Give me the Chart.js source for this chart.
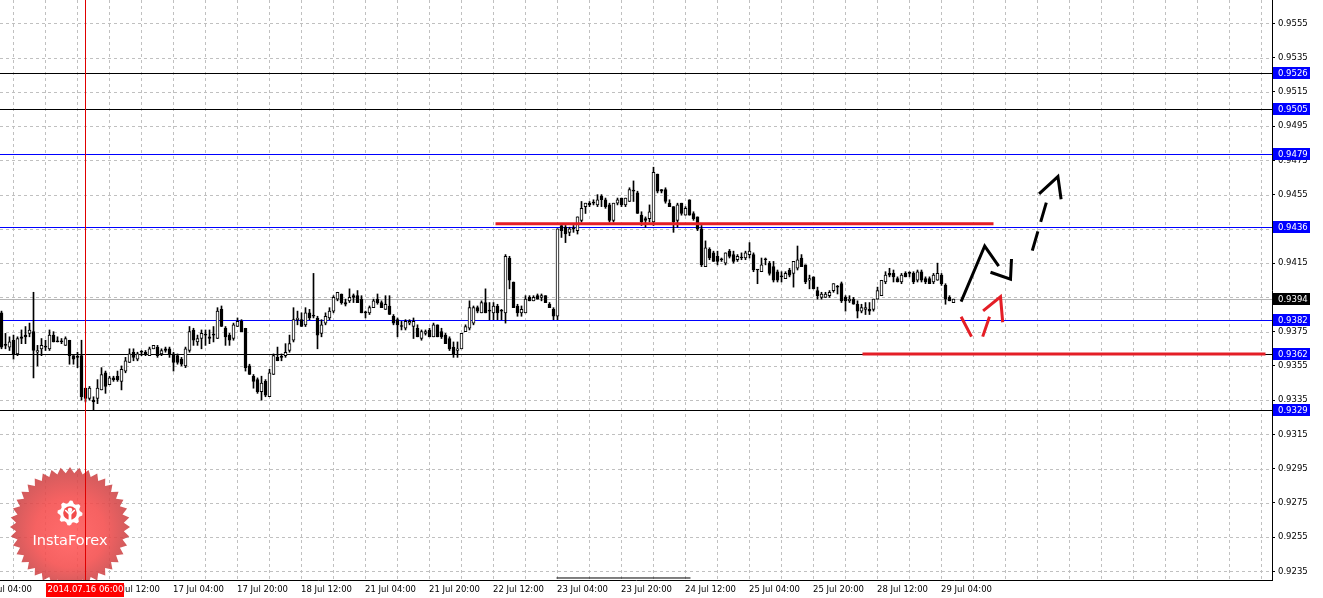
<!DOCTYPE html>
<html>
<head>
<meta charset="utf-8">
<script src="https://cdn.jsdelivr.net/npm/chart.js@4"></script>
<style>
html, body { margin: 0; padding: 0; background: #fff; }
#wrap { width: 1323px; height: 598px; position: relative; }
</style>
</head>
<body>
<div id="wrap"><canvas id="priceChart"></canvas></div>
<script>
// USDCHF H1, one candle per hour, bar 0 = 15 Jul 09:00, last bar = 29 Jul 07:00
const timeLabels = ['15 Jul 04:00', '15 Jul 20:00', '16 Jul 12:00', '17 Jul 04:00', '17 Jul 20:00', '18 Jul 12:00',
    '21 Jul 04:00', '21 Jul 20:00', '22 Jul 12:00', '23 Jul 04:00', '23 Jul 20:00', '24 Jul 12:00',
    '25 Jul 04:00', '25 Jul 20:00', '28 Jul 12:00', '29 Jul 04:00'];
const timeTickBars = [-5, 11, 27, 43, 59, 75, 91, 107, 123, 139, 155, 171, 187, 203, 219, 235];

const open = [
0.9386,0.9367,0.9366,0.9370,0.9362,0.9372,0.9373,0.9374,0.9375,0.9363,
0.9365,0.9366,0.9365,0.9373,0.9369,0.9369,0.9367,0.9370,0.9361,0.9360,
0.9361,0.9342,0.9336,0.9335,0.9336,0.9341,0.9351,0.9344,0.9348,0.9349,
0.9346,0.9352,0.9357,0.9363,0.9359,0.9363,0.9363,0.9361,0.9365,0.9366,
0.9362,0.9365,0.9365,0.9362,0.9361,0.9359,0.9355,0.9364,0.9376,0.9369,
0.9371,0.9373,0.9372,0.9373,0.9371,0.9388,0.9377,0.9373,0.9371,0.9378,
0.9381,0.9377,0.9355,0.9349,0.9347,0.9340,0.9346,0.9337,0.9350,0.9360,
0.9360,0.9361,0.9364,0.9370,0.9382,0.9382,0.9379,0.9386,0.9384,0.9383,
0.9374,0.9380,0.9383,0.9387,0.9394,0.9397,0.9392,0.9393,0.9396,0.9396,
0.9394,0.9386,0.9386,0.9389,0.9394,0.9392,0.9388,0.9390,0.9384,0.9382,
0.9378,0.9377,0.9380,0.9378,0.9377,0.9371,0.9374,0.9376,0.9372,0.9379,
0.9375,0.9373,0.9371,0.9366,0.9364,0.9365,0.9375,0.9377,0.9380,0.9389,
0.9386,0.9392,0.9387,0.9386,0.9390,0.9387,0.9386,0.9418,0.9404,0.9390,
0.9386,0.9386,0.9395,0.9393,0.9396,0.9395,0.9396,0.9391,0.9388,0.9384,
0.9437,0.9436,0.9433,0.9435,0.9434,0.9440,0.9448,0.9450,0.9450,0.9449,
0.9454,0.9452,0.9449,0.9440,0.9450,0.9453,0.9449,0.9451,0.9457,0.9456,
0.9443,0.9441,0.9441,0.9439,0.9467,0.9458,0.9458,0.9450,0.9448,0.9440,
0.9450,0.9443,0.9452,0.9444,0.9442,0.9435,0.9413,0.9423,0.9421,0.9419,
0.9417,0.9415,0.9422,0.9420,0.9417,0.9418,0.9418,0.9420,0.9420,0.9411,
0.9410,0.9417,0.9415,0.9413,0.9410,0.9407,0.9406,0.9411,0.9409,0.9412,
0.9418,0.9414,0.9405,0.9407,0.9399,0.9395,0.9395,0.9396,0.9399,0.9401,
0.9403,0.9395,0.9393,0.9394,0.9391,0.9387,0.9388,0.9388,0.9388,0.9394,
0.9396,0.9404,0.9409,0.9409,0.9406,0.9404,0.9409,0.9409,0.9409,0.9405,
0.9410,0.9406,0.9406,0.9404,0.9405,0.9408,0.9402,0.9395,0.9392];
const high = [
0.9387,0.9374,0.9372,0.9373,0.9372,0.9376,0.9378,0.9380,0.9398,0.9367,
0.9371,0.9370,0.9376,0.9375,0.9372,0.9371,0.9372,0.9370,0.9361,0.9363,
0.9370,0.9342,0.9343,0.9337,0.9347,0.9354,0.9352,0.9349,0.9349,0.9352,
0.9355,0.9360,0.9365,0.9365,0.9363,0.9364,0.9364,0.9366,0.9367,0.9367,
0.9365,0.9366,0.9366,0.9363,0.9362,0.9360,0.9366,0.9378,0.9377,0.9373,
0.9376,0.9376,0.9376,0.9378,0.9389,0.9390,0.9378,0.9374,0.9380,0.9383,
0.9382,0.9377,0.9356,0.9350,0.9348,0.9349,0.9347,0.9353,0.9362,0.9366,
0.9362,0.9368,0.9373,0.9389,0.9387,0.9386,0.9389,0.9388,0.9409,0.9384,
0.9382,0.9386,0.9389,0.9396,0.9398,0.9397,0.9394,0.9400,0.9397,0.9399,
0.9396,0.9387,0.9390,0.9394,0.9397,0.9393,0.9396,0.9396,0.9385,0.9383,
0.9381,0.9382,0.9382,0.9383,0.9379,0.9376,0.9376,0.9377,0.9380,0.9379,
0.9377,0.9374,0.9372,0.9369,0.9369,0.9374,0.9379,0.9393,0.9390,0.9390,
0.9393,0.9400,0.9392,0.9392,0.9391,0.9388,0.9420,0.9419,0.9404,0.9391,
0.9390,0.9396,0.9396,0.9396,0.9397,0.9397,0.9396,0.9392,0.9389,0.9435,
0.9437,0.9437,0.9436,0.9437,0.9442,0.9451,0.9450,0.9451,0.9452,0.9455,
0.9455,0.9453,0.9450,0.9450,0.9453,0.9453,0.9453,0.9459,0.9463,0.9457,
0.9445,0.9442,0.9449,0.9471,0.9467,0.9458,0.9459,0.9452,0.9448,0.9450,
0.9450,0.9448,0.9452,0.9445,0.9442,0.9437,0.9428,0.9424,0.9422,0.9422,
0.9418,0.9421,0.9423,0.9422,0.9420,0.9421,0.9422,0.9427,0.9421,0.9411,
0.9418,0.9418,0.9416,0.9416,0.9411,0.9410,0.9410,0.9412,0.9416,0.9425,
0.9420,0.9414,0.9408,0.9407,0.9401,0.9398,0.9398,0.9399,0.9403,0.9402,
0.9404,0.9396,0.9396,0.9395,0.9393,0.9391,0.9392,0.9392,0.9394,0.9401,
0.9405,0.9410,0.9412,0.9411,0.9407,0.9409,0.9410,0.9410,0.9410,0.9411,
0.9411,0.9407,0.9407,0.9409,0.9415,0.9409,0.9403,0.9396,0.9394];
const low = [
0.9365,0.9365,0.9364,0.9359,0.9361,0.9368,0.9368,0.9372,0.9348,0.9355,
0.9361,0.9364,0.9364,0.9369,0.9369,0.9368,0.9367,0.9356,0.9356,0.9354,
0.9335,0.9334,0.9335,0.9329,0.9333,0.9341,0.9339,0.9344,0.9346,0.9346,
0.9341,0.9351,0.9357,0.9358,0.9358,0.9361,0.9361,0.9361,0.9365,0.9360,
0.9361,0.9363,0.9360,0.9352,0.9356,0.9355,0.9354,0.9363,0.9367,0.9367,
0.9365,0.9367,0.9368,0.9369,0.9371,0.9378,0.9367,0.9367,0.9370,0.9378,
0.9375,0.9352,0.9350,0.9342,0.9339,0.9335,0.9337,0.9337,0.9350,0.9358,
0.9358,0.9360,0.9363,0.9369,0.9379,0.9378,0.9378,0.9382,0.9383,0.9365,
0.9372,0.9379,0.9382,0.9386,0.9393,0.9391,0.9390,0.9392,0.9392,0.9392,
0.9386,0.9383,0.9385,0.9389,0.9391,0.9389,0.9388,0.9385,0.9379,0.9372,
0.9376,0.9376,0.9379,0.9371,0.9372,0.9370,0.9373,0.9372,0.9372,0.9372,
0.9371,0.9368,0.9364,0.9360,0.9360,0.9365,0.9375,0.9376,0.9379,0.9386,
0.9386,0.9386,0.9382,0.9382,0.9382,0.9382,0.9380,0.9400,0.9389,0.9384,
0.9384,0.9386,0.9393,0.9393,0.9394,0.9393,0.9392,0.9389,0.9382,0.9382,
0.9430,0.9427,0.9431,0.9433,0.9432,0.9439,0.9444,0.9448,0.9449,0.9448,
0.9448,0.9447,0.9439,0.9439,0.9449,0.9448,0.9448,0.9451,0.9451,0.9444,
0.9437,0.9436,0.9439,0.9437,0.9456,0.9456,0.9450,0.9448,0.9433,0.9436,
0.9443,0.9443,0.9443,0.9440,0.9434,0.9413,0.9413,0.9417,0.9416,0.9414,
0.9416,0.9414,0.9418,0.9415,0.9416,0.9417,0.9417,0.9418,0.9410,0.9403,
0.9410,0.9414,0.9408,0.9404,0.9404,0.9404,0.9406,0.9407,0.9401,0.9411,
0.9413,0.9403,0.9400,0.9400,0.9394,0.9394,0.9395,0.9395,0.9398,0.9397,
0.9392,0.9387,0.9392,0.9391,0.9383,0.9386,0.9385,0.9385,0.9387,0.9394,
0.9396,0.9403,0.9407,0.9404,0.9404,0.9403,0.9407,0.9407,0.9403,0.9404,
0.9404,0.9403,0.9403,0.9403,0.9405,0.9402,0.9391,0.9393,0.9392];
const close = [
0.9366,0.9367,0.9369,0.9362,0.9371,0.9371,0.9372,0.9376,0.9364,0.9364,
0.9367,0.9366,0.9373,0.9369,0.9369,0.9369,0.9371,0.9361,0.9359,0.9360,
0.9337,0.9336,0.9342,0.9334,0.9342,0.9350,0.9343,0.9348,0.9347,0.9347,
0.9353,0.9358,0.9362,0.9360,0.9362,0.9363,0.9362,0.9365,0.9367,0.9361,
0.9364,0.9364,0.9362,0.9357,0.9357,0.9356,0.9365,0.9375,0.9370,0.9371,
0.9374,0.9373,0.9371,0.9373,0.9387,0.9378,0.9372,0.9370,0.9379,0.9381,
0.9375,0.9354,0.9350,0.9346,0.9340,0.9345,0.9338,0.9351,0.9361,0.9358,
0.9360,0.9363,0.9368,0.9382,0.9383,0.9378,0.9386,0.9383,0.9384,0.9373,
0.9379,0.9384,0.9387,0.9395,0.9398,0.9392,0.9391,0.9395,0.9395,0.9392,
0.9386,0.9386,0.9389,0.9393,0.9392,0.9389,0.9391,0.9385,0.9380,0.9379,
0.9378,0.9381,0.9381,0.9381,0.9372,0.9375,0.9375,0.9372,0.9379,0.9372,
0.9372,0.9368,0.9365,0.9362,0.9365,0.9374,0.9378,0.9389,0.9389,0.9387,
0.9392,0.9386,0.9387,0.9390,0.9386,0.9387,0.9419,0.9405,0.9389,0.9386,
0.9388,0.9394,0.9393,0.9395,0.9394,0.9396,0.9392,0.9389,0.9384,0.9435,
0.9434,0.9432,0.9435,0.9435,0.9442,0.9447,0.9450,0.9449,0.9450,0.9452,
0.9452,0.9448,0.9440,0.9450,0.9452,0.9449,0.9453,0.9458,0.9457,0.9444,
0.9439,0.9440,0.9445,0.9468,0.9457,0.9457,0.9451,0.9448,0.9439,0.9449,
0.9444,0.9447,0.9443,0.9441,0.9435,0.9414,0.9424,0.9418,0.9416,0.9416,
0.9417,0.9421,0.9419,0.9416,0.9419,0.9418,0.9421,0.9422,0.9411,0.9411,
0.9414,0.9417,0.9409,0.9405,0.9405,0.9407,0.9409,0.9408,0.9416,0.9417,
0.9413,0.9404,0.9406,0.9400,0.9396,0.9397,0.9397,0.9398,0.9403,0.9401,
0.9393,0.9393,0.9394,0.9391,0.9387,0.9389,0.9389,0.9387,0.9394,0.9399,
0.9405,0.9408,0.9408,0.9407,0.9404,0.9408,0.9407,0.9409,0.9404,0.9410,
0.9405,0.9404,0.9403,0.9408,0.9409,0.9403,0.9394,0.9393,0.9394];

const priceTicks = [0.9235, 0.9255, 0.9275, 0.9295, 0.9315, 0.9335, 0.9355, 0.9375, 0.9395,
    0.9415, 0.9435, 0.9455, 0.9475, 0.9495, 0.9515, 0.9535, 0.9555];

// horizontal levels with their price labels on the right
const levelPrices = [0.9526, 0.9505, 0.9479, 0.9436, 0.9382, 0.9362, 0.9329];
const levelLineColors = ['#000000', '#000000', '#0000ff', '#0000ff', '#0000ff', '#000000', '#000000'];
const bidPrice = 0.9394;
const crossBar = 21;
const crossText = '2014.07.16 06:00';

// analyst drawings as [bar, price] pairs, null breaks the stroke
const redLines = [[123.5, 0.9438], [248, 0.9438], null, [215.25, 0.9362], [316, 0.9362]];
const blackPath = [[239.9, 0.93925], [245.8, 0.9425], [249.3, 0.94133], null,
    [247.25, 0.94097], [252.25, 0.94056], [252.5, 0.94174]];
const blackDashed = [[257.7, 0.94223], [261.4, 0.94519]];
const blackHead = [[259.4, 0.94554], [264.1, 0.94655], [264.9, 0.94523]];
const redPath = [[239.9, 0.93837], [242.5, 0.93721], null, [245.3, 0.93721], [247, 0.93837], null,
    [245.4, 0.93871], [249.75, 0.93954], [250.3, 0.93805]];
const bottomMark = [[138.75, 0.92312], [172.25, 0.92312]];

const FONT = '"DejaVu Sans", sans-serif';

function pts(list)
{
    return list.map((p, i) => p ? {x: p[0], y: p[1]} : {x: list[i - 1][0], y: null});
}

function lineSet(list, color, dash, width)
{
    return {
        type: 'line',
        data: pts(list),
        borderColor: color,
        borderWidth: width || 3,
        borderDash: dash || [],
        borderCapStyle: 'butt',
        pointRadius: 0,
        tension: 0,
        spanGaps: false,
        order: 0
    };
}

function drawLogo(ctx, cx, cy)
{
    ctx.save();
    ctx.globalAlpha = 0.88;
    const n = 40;
    ctx.beginPath();
    for (let k = 0; k < n * 2; k++) {
        const a = -Math.PI / 2 + k * Math.PI / n;
        const r = k % 2 ? 54 : 60;
        ctx.lineTo(cx + r * Math.cos(a), cy + r * Math.sin(a));
    }
    ctx.closePath();
    const g = ctx.createRadialGradient(cx, cy + 12, 4, cx, cy, 60);
    g.addColorStop(0, '#ff5656');
    g.addColorStop(0.55, '#f44c4c');
    g.addColorStop(1, '#c94446');
    ctx.fillStyle = g;
    ctx.fill();

    // gear icon
    const gy = cy - 14;
    ctx.globalAlpha = 1;
    ctx.beginPath();
    for (let k = 0; k < 32; k++) {
        const a = k * Math.PI * 2 / 32;
        const r = (k % 4 < 2) ? 12.5 : 10;
        ctx.lineTo(cx + r * Math.cos(a), gy + r * Math.sin(a));
    }
    ctx.closePath();
    ctx.fillStyle = '#ffffff';
    ctx.fill();
    ctx.beginPath();
    ctx.arc(cx, gy, 6.8, 0, Math.PI * 2);
    ctx.fillStyle = '#f24b4b';
    ctx.fill();
    ctx.fillStyle = '#ffffff';
    ctx.beginPath();
    ctx.arc(cx, gy - 3, 2.3, 0, Math.PI * 2);
    ctx.fill();
    ctx.fillRect(cx - 1.4, gy - 1, 2.8, 12.5);
    ctx.strokeStyle = '#ffffff';
    ctx.lineWidth = 1.7;
    ctx.beginPath();
    ctx.moveTo(cx - 4.8, gy - 3);
    ctx.lineTo(cx, gy + 1.5);
    ctx.lineTo(cx + 4.8, gy - 3);
    ctx.stroke();

    ctx.font = '14.5px ' + FONT;
    ctx.textAlign = 'center';
    ctx.textBaseline = 'middle';
    ctx.fillText('InstaForex', cx, cy + 14);
    ctx.restore();
}

const mt4Plugin = {
    id: 'mt4',
    beforeDatasetsDraw(chart)
    {
        const {ctx, chartArea: area, scales: {x, y}} = chart;
        ctx.save();
        ctx.beginPath();
        ctx.rect(area.left, area.top, area.right - area.left, area.bottom - area.top);
        ctx.clip();

        // dotted grid
        ctx.strokeStyle = '#c0c0c0';
        ctx.lineWidth = 1;
        ctx.setLineDash([3, 3]);
        for (const v of priceTicks) {
            const py = Math.round(y.getPixelForValue(v)) + 0.5;
            ctx.beginPath();
            ctx.moveTo(area.left, py);
            ctx.lineTo(area.right, py);
            ctx.stroke();
        }
        for (let b = 3; b < x.max; b += 8) {
            const px = Math.floor(x.getPixelForValue(b)) + 0.5;
            ctx.beginPath();
            ctx.moveTo(px, area.top);
            ctx.lineTo(px, area.bottom);
            ctx.stroke();
        }
        ctx.setLineDash([]);

        drawLogo(ctx, 70, 527);

        // bid line
        ctx.strokeStyle = '#b4b4b4';
        let py = Math.round(y.getPixelForValue(bidPrice)) + 0.5;
        ctx.beginPath();
        ctx.moveTo(area.left, py);
        ctx.lineTo(area.right, py);
        ctx.stroke();

        levelPrices.forEach((v, i) => {
            const ly = Math.round(y.getPixelForValue(v)) + 0.5;
            ctx.strokeStyle = levelLineColors[i];
            ctx.beginPath();
            ctx.moveTo(area.left, ly);
            ctx.lineTo(area.right, ly);
            ctx.stroke();
        });
        ctx.restore();
    },
    afterDatasetsDraw(chart)
    {
        const {ctx, chartArea: area, scales: {x}} = chart;
        const px = Math.floor(x.getPixelForValue(crossBar)) + 0.5;
        ctx.save();
        ctx.strokeStyle = '#e00000';
        ctx.lineWidth = 1;
        ctx.beginPath();
        ctx.moveTo(px, area.top);
        ctx.lineTo(px, area.bottom);
        ctx.stroke();
        ctx.restore();
    },
    afterDraw(chart)
    {
        const {ctx, chartArea: area, scales: {x, y}} = chart;
        ctx.save();
        ctx.font = '8.5px ' + FONT;
        ctx.textBaseline = 'middle';
        ctx.textAlign = 'left';

        // price boxes
        const box = (v, bg) => {
            const py = Math.round(y.getPixelForValue(v));
            ctx.fillStyle = bg;
            ctx.fillRect(area.right + 1, py - 6, 37, 12);
            ctx.fillStyle = '#ffffff';
            ctx.fillText(v.toFixed(4), area.right + 6, py + 0.5);
        };
        levelPrices.forEach(v => box(v, '#0000ff'));
        box(bidPrice, '#000000');

        // time axis
        ctx.fillStyle = '#000000';
        const ty = area.bottom + 10;
        timeLabels.forEach((t, i) => {
            const px = Math.floor(x.getPixelForValue(timeTickBars[i]));
            ctx.fillText(t, px, ty);
        });
        const cx = Math.floor(x.getPixelForValue(crossBar));
        ctx.fillStyle = '#ff0000';
        ctx.fillRect(cx - 39, area.bottom + 3, 78, 14);
        ctx.fillStyle = '#ffffff';
        ctx.textAlign = 'center';
        ctx.fillText(crossText, cx + 0.5, ty);
        ctx.restore();
    }
};

const ctx = document.getElementById('priceChart').getContext('2d');
new Chart(ctx, {
    type: 'bar',
    data: {
        datasets: [
            lineSet(redLines, '#e41e26'),
            lineSet(redPath, '#e41e26'),
            lineSet(blackPath, '#000000'),
            lineSet(blackDashed, '#000000', [20, 10]),
            lineSet(blackHead, '#000000'),
            lineSet(bottomMark, '#000000', [], 1),
            {
                label: 'body',
                data: open.map((o, i) => ({x: i, y: [o, close[i]]})),
                backgroundColor: open.map((o, i) => close[i] > o ? '#ffffff' : '#000000'),
                borderColor: '#000000',
                borderWidth: 1,
                borderSkipped: false,
                barThickness: 3,
                minBarLength: 1,
                grouped: false,
                order: 1
            },
            {
                label: 'wick',
                data: open.map((o, i) => ({x: i, y: [low[i], high[i]]})),
                backgroundColor: '#000000',
                borderWidth: 0,
                barThickness: 1,
                grouped: false,
                order: 2
            }
        ]
    },
    options: {
        responsive: true,
        maintainAspectRatio: false,
        animation: false,
        layout: { padding: 0 },
        plugins: {
            legend: { display: false },
            tooltip: { enabled: false }
        },
        scales: {
            x: {
                type: 'linear',
                offset: false,
                bounds: 'data',
                min: -0.375,
                max: 317.625,
                grid: { display: false, offset: false },
                ticks: { display: false },
                border: { display: true, color: '#000000', width: 1 },
                afterFit: s => { s.height = 18; s.paddingLeft = 0; s.paddingRight = 0; }
            },
            y: {
                type: 'linear',
                position: 'right',
                bounds: 'data',
                min: 0.923003,
                max: 0.956862,
                afterBuildTicks: s => { s.ticks = priceTicks.map(v => ({value: v})); },
                ticks: {
                    autoSkip: false,
                    color: '#000000',
                    padding: 3,
                    font: { family: 'DejaVu Sans', size: 8.5 },
                    callback: v => v.toFixed(4)
                },
                grid: { drawOnChartArea: false, drawTicks: true, tickLength: 3, tickColor: '#000000', color: '#000000' },
                border: { display: true, color: '#000000', width: 1 },
                afterFit: s => { s.width = 51; s.paddingTop = 0; s.paddingBottom = 0; }
            }
        }
    },
    plugins: [mt4Plugin]
});
</script>
</body>
</html>
